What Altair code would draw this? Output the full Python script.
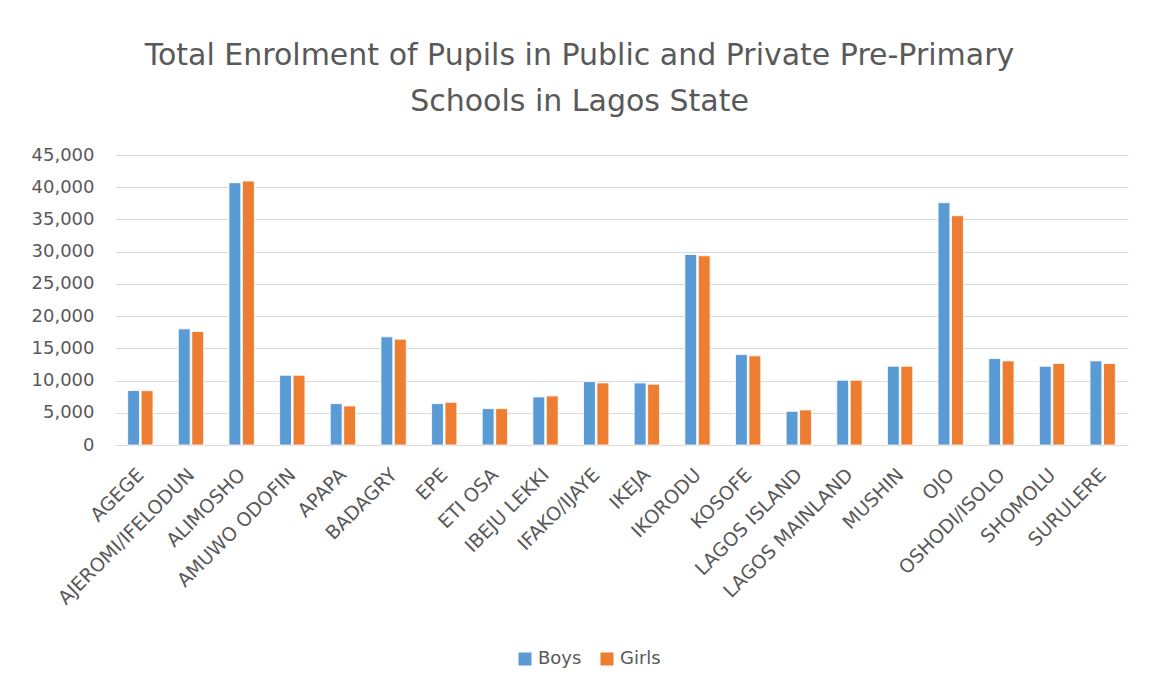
import altair as alt
import pandas as pd

districts = ["AGEGE", "AJEROMI/IFELODUN", "ALIMOSHO", "AMUWO ODOFIN", "APAPA", "BADAGRY",
             "EPE", "ETI OSA", "IBEJU LEKKI", "IFAKO/IJAYE", "IKEJA", "IKORODU", "KOSOFE",
             "LAGOS ISLAND", "LAGOS MAINLAND", "MUSHIN", "OJO", "OSHODI/ISOLO", "SHOMOLU", "SURULERE"]
boys = [8450, 18020, 40700, 10820, 6420, 16780, 6420, 5640, 7460, 9840, 9630, 29570, 14030,
        5230, 10050, 12220, 37600, 13410, 12220, 13050]
girls = [8430, 17610, 40960, 10820, 6060, 16420, 6630, 5640, 7610, 9630, 9430, 29360, 13830,
         5440, 10050, 12220, 35580, 13050, 12640, 12640]
series = ["Boys", "Girls"]
colors = ["#5B9BD5", "#ED7D31"]

rows = []
for d, b, g in zip(districts, boys, girls):
    rows.append({"District": d, "Gender": "Boys", "Value": b})
    rows.append({"District": d, "Gender": "Girls", "Value": g})
df = pd.DataFrame(rows)

FONT = "DejaVu Sans"
GREY = "#595959"

chart = alt.Chart(df).mark_bar(stroke="white", strokeWidth=0.8).encode(
    x=alt.X("District:N", sort=districts, title=None,
            scale=alt.Scale(paddingInner=0.5, paddingOuter=0.25),
            axis=alt.Axis(labelAngle=-45, labelFontSize=19, labelColor=GREY, labelFont=FONT,
                          ticks=False, domainColor="#d9d9d9", labelPadding=20, labelLimit=300,
                          labelOffset=-6)),
    xOffset=alt.XOffset("Gender:N", sort=series, scale=alt.Scale(paddingInner=0.12)),
    y=alt.Y("Value:Q", title=None,
            scale=alt.Scale(domain=[0, 45000]),
            axis=alt.Axis(values=list(range(0, 45001, 5000)), format=",d", labelFontSize=18,
                          labelColor=GREY, labelFont=FONT, ticks=False, domain=False,
                          gridColor="#d9d9d9", labelPadding=21)),
    color=alt.Color("Gender:N", sort=series,
                    scale=alt.Scale(domain=series, range=colors),
                    legend=alt.Legend(title=None, orient="none", legendX=401, legendY=495,
                                      symbolType="square", symbolSize=169, labelFontSize=18,
                                      labelColor=GREY, labelFont=FONT, direction="horizontal",
                                      symbolStrokeWidth=0, columnPadding=16, labelOffset=4)),
).properties(
    width=1013, height=290,
    title=alt.Title(["Total Enrolment of Pupils in Public and Private Pre-Primary",
                     "Schools in Lagos State"],
                    fontSize=30, font=FONT, fontWeight="normal", color=GREY,
                    anchor="middle", frame="bounds", lineHeight=46, offset=29),
    padding={"left": 23, "top": 33, "right": 10, "bottom": 10},
).configure_view(stroke=None)

chart.save("out.html", embed_options={"renderer": "svg", "actions": False})
